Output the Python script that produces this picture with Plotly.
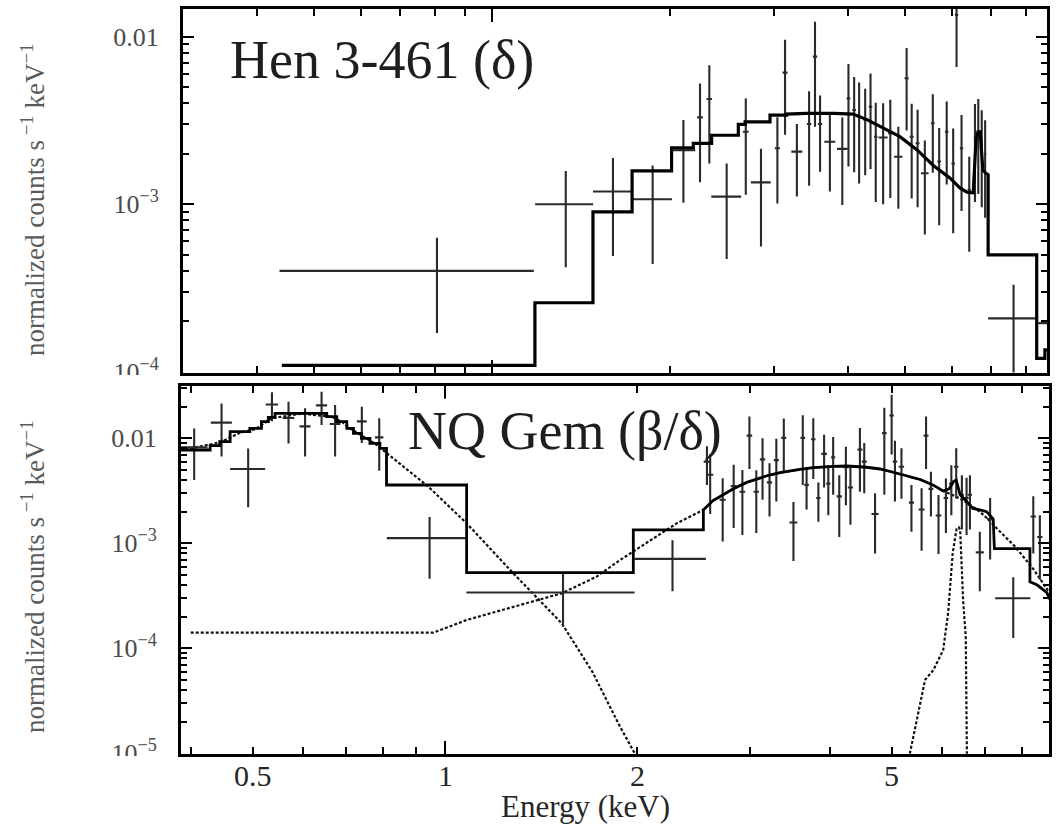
import math
import plotly.graph_objects as go

W, H = 1056, 826
SERIF = "Liberation Serif, Times New Roman, serif"

# ---------------- Hen 3-461 (top panel) ----------------
hen_energy = [0.807, 1.333, 1.602, 1.870, 2.108, 2.249, 2.332, 2.495, 2.688, 2.852,
              3.04, 3.132, 3.28, 3.44, 3.52, 3.59, 3.73, 3.915, 4.01, 4.10,
              4.18, 4.28, 4.37, 4.46, 4.59, 4.72, 4.87, 5.03, 5.13, 5.25,
              5.40, 5.57, 5.71, 5.88, 6.03, 6.11, 6.23, 6.42, 6.565, 6.65,
              6.74, 6.83, 7.63, 8.73]
hen_energy_err = [0.37, 0.15, 0.12, 0.146, 0.10, 0.025, 0.025, 0.145, 0.03, 0.11,
                  0.03, 0.03, 0.07, 0.03, 0.03, 0.03, 0.08, 0.08, 0.03, 0.03,
                  0.03, 0.03, 0.03, 0.03, 0.08, 0.04, 0.08, 0.04, 0.04, 0.04,
                  0.08, 0.04, 0.04, 0.04, 0.04, 0.04, 0.04, 0.04, 0.03, 0.03,
                  0.03, 0.03, 0.72, 0.33]
hen_rate = [4.0e-4, 1.0e-3, 1.19e-3, 1.07e-3, 2.1e-3, 3.30e-3, 4.25e-3, 1.11e-3, 2.71e-3, 1.35e-3,
            2.16e-3, 6.1e-3, 2.06e-3, 3.01e-3, 7.6e-3, 3.01e-3, 2.36e-3, 2.14e-3, 4.28e-3, 3.65e-3,
            3.33e-3, 3.19e-3, 3.82e-3, 2.53e-3, 2.5e-3, 2.65e-3, 1.92e-3, 5.65e-3, 2.53e-3, 2.31e-3,
            1.53e-3, 3.04e-3, 1.80e-3, 2.71e-3, 1.75e-3, 1.35e-2, 2.16e-3, 1.22e-3, 2.5e-3, 2.7e-3,
            2.3e-3, 2.0e-3, 2.08e-4, 1.95e-4]
hen_rate_err = [2.3e-4, 5.8e-4, 7.0e-4, 6.3e-4, 1.08e-3, 1.95e-3, 2.5e-3, 6.4e-4, 1.57e-3, 7.9e-4,
                1.15e-3, 3.5e-3, 9.5e-4, 1.72e-3, 4.7e-3, 1.45e-3, 1.17e-3, 1.15e-3, 2.6e-3, 2.1e-3,
                2.0e-3, 1.7e-3, 2.2e-3, 1.5e-3, 1.5e-3, 1.56e-3, 9.8e-4, 2.9e-3, 1.45e-3, 1.35e-3,
                8.7e-4, 1.5e-3, 1.05e-3, 1.4e-3, 1.08e-3, 6.9e-3, 1.25e-3, 7.0e-4, 1.47e-3, 1.55e-3,
                1.34e-3, 1.17e-3, 1.22e-4, 0.85e-4]

# folded model: coarse bins, fine-binned continuum + Fe line, coarse tail
hen_model_edges = [0.441, 1.182, 1.482, 1.726, 2.013, 2.191, 2.353, 2.611, 2.681, 2.954, 3.152]
hen_model_bins = [1.09e-4, 2.58e-4, 9.0e-4, 1.58e-3, 2.17e-3, 2.31e-3, 2.58e-3, 3.0e-3, 3.1e-3, 3.4e-3]
hen_model_curve_e = [3.152, 3.40, 3.80, 4.08, 4.31, 4.59, 4.90, 5.24, 5.575, 5.96,
                     6.19, 6.365, 6.52, 6.59, 6.64, 6.70, 6.77, 6.85, 6.91]
hen_model_curve_v = [3.45e-3, 3.49e-3, 3.49e-3, 3.45e-3, 3.2e-3, 2.84e-3, 2.53e-3, 2.11e-3, 1.71e-3, 1.43e-3,
                     1.25e-3, 1.18e-3, 1.17e-3, 2.4e-3, 2.7e-3, 2.7e-3, 1.6e-3, 1.53e-3, 1.5e-3]
hen_model_tail_edges = [6.91, 8.35, 8.62, 8.9]
hen_model_tail_bins = [4.98e-4, 1.2e-4, 1.35e-4]

# ---------------- NQ Gem (bottom panel) ----------------
nq_energy = [0.405, 0.447, 0.492, 0.536, 0.569, 0.604, 0.641, 0.673, 0.741, 0.789,
             0.946, 1.53, 2.27, 2.57, 2.60, 2.72, 2.83, 2.92, 2.995, 3.07,
             3.14, 3.22, 3.30, 3.39, 3.51, 3.63, 3.68, 3.77, 3.84, 3.92,
             3.98, 4.05, 4.14, 4.24, 4.31, 4.46, 4.53, 4.71, 4.87, 5.00,
             5.06, 5.18, 5.37, 5.57, 5.66, 5.76, 5.92, 6.08, 6.20, 6.31,
             6.44, 6.55, 6.63, 6.87, 7.13, 7.75, 8.33, 8.53]
nq_energy_err = [0.02, 0.017, 0.031, 0.012, 0.012, 0.012, 0.013, 0.013, 0.013, 0.012,
                 0.135, 0.45, 0.29, 0.03, 0.03, 0.03, 0.03, 0.03, 0.03, 0.03,
                 0.03, 0.03, 0.03, 0.03, 0.05, 0.03, 0.03, 0.03, 0.03, 0.04,
                 0.03, 0.03, 0.04, 0.04, 0.04, 0.04, 0.04, 0.06, 0.04, 0.04,
                 0.04, 0.05, 0.05, 0.06, 0.05, 0.05, 0.06, 0.05, 0.05, 0.05,
                 0.05, 0.05, 0.05, 0.10, 0.08, 0.49, 0.08, 0.08]
nq_rate = [8.2e-3, 1.41e-2, 5.1e-3, 2.1e-2, 1.56e-2, 1.3e-2, 2.06e-2, 1.37e-2, 1.45e-2, 1.02e-2,
           1.12e-3, 3.4e-4, 7.1e-4, 6.0e-3, 4.5e-3, 2.6e-3, 3.5e-3, 3.1e-3, 1.06e-2, 3.1e-3,
           6.3e-3, 3.8e-3, 6.2e-3, 1.01e-2, 1.58e-3, 1.01e-2, 3.6e-3, 9.8e-3, 2.7e-3, 7.1e-3,
           3.7e-3, 6.6e-3, 2.8e-3, 5.3e-3, 3.4e-3, 7.8e-3, 6.0e-3, 1.9e-3, 1.12e-2, 1.65e-2,
           6.0e-3, 5.35e-3, 2.44e-3, 2.1e-3, 1.06e-2, 3.3e-3, 1.84e-3, 2.7e-3, 3.7e-3, 5.35e-3,
           2.9e-3, 2.7e-3, 2.9e-3, 8.2e-4, 1.7e-3, 3.0e-4, 1.8e-3, 1.15e-3]
nq_rate_err = [4.2e-3, 7.4e-3, 2.9e-3, 6.5e-3, 6.7e-3, 6.3e-3, 7.2e-3, 7.0e-3, 5.5e-3, 5.3e-3,
               6.6e-4, 1.8e-4, 3.6e-4, 2.4e-3, 2.6e-3, 1.56e-3, 2.1e-3, 1.9e-3, 5.5e-3, 1.85e-3,
               3.7e-3, 2.0e-3, 3.7e-3, 5.3e-3, 9.0e-4, 6.5e-3, 1.5e-3, 5.7e-3, 1.1e-3, 3.7e-3,
               1.85e-3, 3.7e-3, 1.65e-3, 3.0e-3, 1.9e-3, 4.7e-3, 3.0e-3, 1.1e-3, 8.3e-3, 9.5e-3,
               3.5e-3, 2.7e-3, 1.15e-3, 1.25e-3, 5.5e-3, 1.5e-3, 1.05e-3, 1.45e-3, 1.85e-3, 2.7e-3,
               1.55e-3, 1.5e-3, 1.55e-3, 4.7e-4, 1.0e-3, 1.75e-4, 1.0e-3, 7.0e-4]

# total folded model
nq_model_edges = [0.38, 0.429, 0.444, 0.461, 0.495, 0.516, 0.529, 0.542, 0.653, 0.677,
                  0.702, 0.719, 0.740, 0.763, 0.791, 0.81, 1.081, 1.971, 2.537]
nq_model_bins = [7.74e-3, 8.5e-3, 9.3e-3, 1.156e-2, 1.244e-2, 1.439e-2, 1.58e-2, 1.73e-2, 1.61e-2,
                 1.439e-2, 1.244e-2, 1.116e-2, 1.0e-2, 8.96e-3, 8.03e-3, 3.59e-3, 5.25e-4, 1.34e-3]
nq_model_curve_e = [2.537, 2.627, 2.827, 2.966, 3.19, 3.344, 3.59, 3.766, 4.05, 4.253,
                    4.57, 4.795, 5.03, 5.54, 5.80, 6.02, 6.15, 6.25, 6.31, 6.40,
                    6.55, 6.70, 6.87, 7.04, 7.21, 7.24, 8.23, 8.23, 8.45, 8.74, 8.95]
nq_model_curve_v = [2.08e-3, 2.55e-3, 3.3e-3, 3.8e-3, 4.4e-3, 4.7e-3, 5.05e-3, 5.25e-3, 5.4e-3, 5.45e-3,
                    5.3e-3, 5.1e-3, 4.75e-3, 4.05e-3, 3.6e-3, 3.15e-3, 3.3e-3, 3.87e-3, 4.0e-3, 2.9e-3,
                    2.5e-3, 2.15e-3, 2.08e-3, 2.0e-3, 1.7e-3, 8.9e-4, 8.9e-4, 4.3e-4, 4.0e-4, 3.4e-4, 2.5e-4]

# model components (dotted)
nq_soft_e = [0.385, 0.436, 0.452, 0.478, 0.505, 0.522, 0.535, 0.597, 0.665, 0.69,
             0.71, 0.73, 0.752, 0.777, 0.80, 0.942, 1.081, 1.279, 1.523, 1.70, 1.879, 2.0]
nq_soft_v = [7.7e-3, 8.9e-3, 9.6e-3, 1.13e-2, 1.22e-2, 1.40e-2, 1.55e-2, 1.72e-2, 1.60e-2, 1.43e-2,
             1.24e-2, 1.12e-2, 1.0e-2, 8.9e-3, 7.7e-3, 3.46e-3, 1.55e-3, 5.18e-4, 1.73e-4, 6.0e-5,
             1.79e-5, 9.0e-6]
nq_hard_e = [0.40, 0.959, 1.081, 1.279, 1.523, 1.727, 1.879, 2.305, 2.537, 2.627,
             2.827, 2.966, 3.19, 3.344, 3.59, 3.766, 4.05, 4.253, 4.57, 4.795,
             5.03, 5.54, 5.80, 6.02, 6.30, 6.55, 6.87, 7.04, 7.30, 7.80,
             8.33, 8.70, 8.95]
nq_hard_v = [1.41e-4, 1.41e-4, 1.86e-4, 2.49e-4, 3.34e-4, 4.81e-4, 6.93e-4, 1.55e-3, 2.08e-3, 2.55e-3,
             3.3e-3, 3.8e-3, 4.4e-3, 4.7e-3, 5.05e-3, 5.25e-3, 5.4e-3, 5.45e-3, 5.3e-3, 5.1e-3,
             4.75e-3, 4.05e-3, 3.6e-3, 3.15e-3, 2.8e-3, 2.45e-3, 2.0e-3, 1.75e-3, 1.39e-3, 9.3e-4,
             5.7e-4, 3.8e-4, 3.0e-4]
nq_line_e = [5.30, 5.64, 5.81, 6.02, 6.13, 6.23, 6.32, 6.37, 6.40, 6.47, 6.53, 6.56]
nq_line_v = [8e-6, 5.0e-5, 6.2e-5, 9.6e-5, 2.2e-4, 8.0e-4, 1.4e-3, 1.42e-3, 1.35e-3, 2.8e-4, 1.3e-4, 8e-6]

# axis ticks
x_minor_top = [0.4, 0.5, 0.6, 0.7, 0.8, 0.9, 2, 3, 4, 5, 6, 7, 8]
x_major_bot = [0.5, 1, 2, 5]
x_major_bot_text = ["0.5", "1", "2", "5"]
x_minor_bot = [0.4, 0.6, 0.7, 0.8, 0.9, 3, 4, 6, 7, 8]
y_major_top = [1e-4, 1e-3, 1e-2]
y_major_top_text = ["10<sup>−4</sup>", "10<sup>−3</sup>", "0.01"]
y_major_bot = [1e-5, 1e-4, 1e-3, 1e-2]
y_major_bot_text = ["10<sup>−5</sup>", "10<sup>−4</sup>", "10<sup>−3</sup>", "0.01"]
y_minor = [m * 10.0 ** k for k in range(-5, -1) for m in range(2, 10)]


def hist_vertices(edges, vals):
    xs, ys = [], []
    for i, v in enumerate(vals):
        xs += [edges[i], edges[i + 1]]
        ys += [v, v]
    return xs, ys


def px_x(p):
    return p / W


def px_y(p):
    return 1 - p / H


fig = go.Figure()

err_style = dict(type="data", symmetric=True, width=0, thickness=2.1, color="#2a2a2a")


def add_data(x, dx, y, dy, xa, ya):
    fig.add_trace(go.Scatter(
        x=x, y=y, mode="markers", xaxis=xa, yaxis=ya,
        marker=dict(size=0.1, color="rgba(0,0,0,0)"),
        error_x=dict(array=dx, **err_style),
        error_y=dict(array=dy, **err_style),
        hoverinfo="skip"))


# top panel
add_data(hen_energy, hen_energy_err, hen_rate, hen_rate_err, "x", "y")
mx1, my1 = hist_vertices(hen_model_edges, hen_model_bins)
mx2, my2 = hist_vertices(hen_model_tail_edges, hen_model_tail_bins)
fig.add_trace(go.Scatter(x=mx1 + hen_model_curve_e + mx2, y=my1 + hen_model_curve_v + my2,
                         mode="lines", line=dict(color="black", width=3.2), xaxis="x", yaxis="y",
                         hoverinfo="skip"))

# bottom panel
dot = dict(color="#111111", width=2.2, dash="3px,2px")
fig.add_trace(go.Scatter(x=nq_soft_e, y=nq_soft_v, mode="lines", line=dot, xaxis="x2", yaxis="y2"))
fig.add_trace(go.Scatter(x=nq_hard_e, y=nq_hard_v, mode="lines", line=dot, xaxis="x2", yaxis="y2"))
fig.add_trace(go.Scatter(x=nq_line_e, y=nq_line_v, mode="lines", line=dot, xaxis="x2", yaxis="y2"))
add_data(nq_energy, nq_energy_err, nq_rate, nq_rate_err, "x2", "y2")
bx, by = hist_vertices(nq_model_edges, nq_model_bins)
fig.add_trace(go.Scatter(x=bx + nq_model_curve_e, y=by + nq_model_curve_v,
                         mode="lines", line=dict(color="black", width=2.8), xaxis="x2", yaxis="y2",
                         hoverinfo="skip"))

frame = dict(type="log", showline=True, linewidth=3, linecolor="black", mirror="allticks",
             ticks="inside", tickwidth=2, tickcolor="black", showgrid=False, zeroline=False)

fig.update_layout(
    width=W, height=H, margin=dict(l=0, r=0, t=0, b=0),
    paper_bgcolor="white", plot_bgcolor="white", showlegend=False, template="none",
    font=dict(family=SERIF, color="#333333"),
    xaxis=dict(frame, domain=[px_x(183), px_x(1047)], range=[-0.52284, 0.93909], anchor="y",
               tickmode="array", tickvals=[1], ticklen=13, showticklabels=False,
               minor=dict(tickmode="array", tickvals=x_minor_top, ticks="inside", ticklen=7,
                          tickwidth=2, tickcolor="black", showgrid=False)),
    yaxis=dict(frame, domain=[px_y(372.5), px_y(9)], range=[-4.0048, -1.8346], anchor="x",
               tickmode="array", tickvals=y_major_top, ticktext=y_major_top_text, ticklen=11,
               tickfont=dict(family=SERIF, size=26, color="#4a4a4a"), ticklabelstandoff=16,
               minor=dict(tickmode="array", tickvals=y_minor, ticks="inside", ticklen=6,
                          tickwidth=2, tickcolor="black", showgrid=False)),
    xaxis2=dict(frame, domain=[px_x(181), px_x(1049)], range=[-0.41315, 0.94523], anchor="y2",
                tickmode="array", tickvals=x_major_bot, ticklen=7, showticklabels=False,
                minor=dict(tickmode="array", tickvals=x_minor_bot, ticks="inside", ticklen=7,
                           tickwidth=2, tickcolor="black", showgrid=False)),
    yaxis2=dict(frame, domain=[px_y(753.8), px_y(386)], range=[-5.0048, -1.5019], anchor="x2",
                tickmode="array", tickvals=y_major_bot, ticktext=y_major_bot_text, ticklen=11,
                tickfont=dict(family=SERIF, size=26, color="#4a4a4a"), ticklabelstandoff=16,
                minor=dict(tickmode="array", tickvals=y_minor, ticks="inside", ticklen=6,
                           tickwidth=2, tickcolor="black", showgrid=False)),
)

# energy tick labels, placed just under the lower frame
for val, txt in zip(x_major_bot, x_major_bot_text):
    fig.add_annotation(text=txt, xref="x2", yref="paper", x=math.log10(val), y=px_y(775),
                       xanchor="center", yanchor="middle", showarrow=False,
                       font=dict(family=SERIF, size=30, color="#262626"))

ytitle = "normalized counts s<sup> −1</sup> keV<sup>−1</sup>"
fig.add_annotation(text="Hen 3-461 (δ)", xref="paper", yref="paper", x=px_x(228), y=px_y(60),
                   xanchor="left", yanchor="middle", showarrow=False,
                   font=dict(family=SERIF, size=54, color="#1e1e1e"))
fig.add_annotation(text="NQ Gem (β/δ)", xref="paper", yref="paper", x=px_x(406), y=px_y(431),
                   xanchor="left", yanchor="middle", showarrow=False,
                   font=dict(family=SERIF, size=54, color="#1e1e1e"))
for yc in (200, 577):
    fig.add_annotation(text=ytitle, xref="paper", yref="paper", x=px_x(33), y=px_y(yc),
                       xanchor="center", yanchor="middle", textangle=-90, showarrow=False,
                       font=dict(family=SERIF, size=27, color="#5a5a5a"))
fig.add_annotation(text="Energy (keV)", xref="paper", yref="paper", x=px_x(585), y=px_y(806),
                   xanchor="center", yanchor="middle", showarrow=False,
                   font=dict(family=SERIF, size=31, color="#262626"))

# longer decade tick at 1 keV on the lower panel
for y0, y1 in ((0, 0.035), (1, 0.965)):
    fig.add_shape(type="line", xref="x2", yref="y2 domain", x0=1, x1=1, y0=y0, y1=y1,
                  line=dict(color="black", width=2), layer="above")

# the lowest y labels are cut by the panel edges
for top, bot in ((375, 384), (756, 792)):
    fig.add_shape(type="rect", xref="paper", yref="paper", x0=px_x(70), x1=px_x(176),
                  y0=px_y(bot), y1=px_y(top), fillcolor="white", line=dict(width=0), layer="above")

fig.write_html("out.html")
